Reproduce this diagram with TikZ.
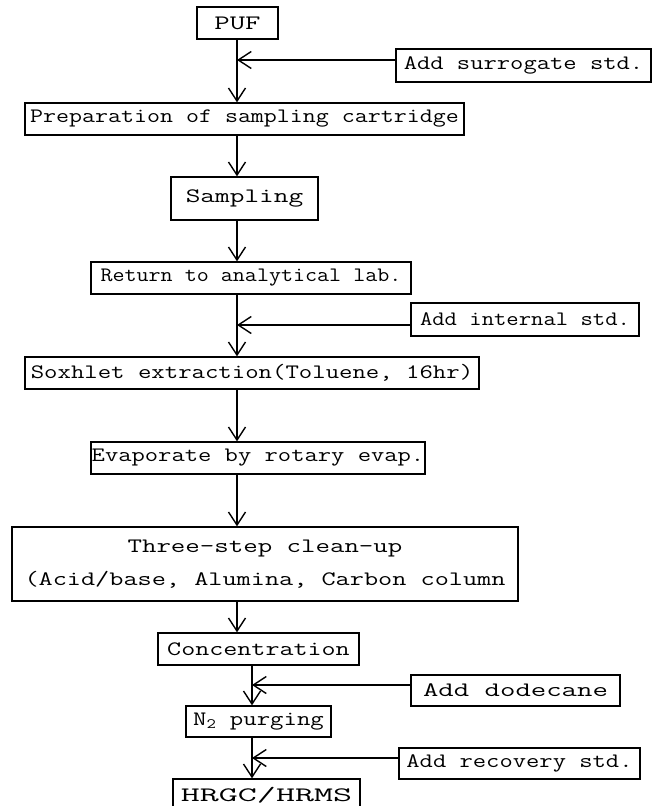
\documentclass[tikz,border=0pt]{standalone}
\usepackage{graphicx}
\usetikzlibrary{arrows.meta}
\newcommand{\sx}[2][1.26]{\scalebox{#1}[1]{#2}}
\tikzset{
  box/.style={draw, line width=1.4pt, inner sep=0pt, font=\fontsize{20.5}{24}\selectfont\ttfamily},
  arr/.style={line width=1.4pt, -{Straight Barb[length=13pt,width=17pt,line width=1.4pt]}},
}
\begin{document}
\begin{tikzpicture}[x=1pt,y=-1pt]
\useasboundingbox[fill=white] (0,0) rectangle (653,806);
% columns
\coordinate (c1) at (237,0);
\coordinate (c2) at (252,0);
% nodes
\node[box, minimum width=81pt,  minimum height=32pt] (puf)   at (237.5,23)  {\sx[1.46]{PUF}};
\node[box, minimum width=255pt, minimum height=33pt] (sur)   at (523.5,65.5) {\sx[1.26]{Add surrogate std.}};
\node[box, minimum width=439pt, minimum height=32pt] (prep)  at (244.5,119) {\sx[1.23]{Preparation of sampling cartridge}};
\node[box, minimum width=147pt, minimum height=43pt] (samp)  at (244.5,198.5) {\sx[1.39]{Sampling}};
\node[box, minimum width=320pt, minimum height=32pt] (ret)   at (251,278)   {\sx[1.14]{Return to analytical lab.}};
\node[box, minimum width=228pt, minimum height=33pt] (int)   at (525,319.5) {\sx[1.17]{Add internal std.}};
\node[box, minimum width=454pt, minimum height=32pt] (sox)   at (252,373)   {\sx[1.27]{Soxhlet extraction(Toluene, 16hr)}};
\node[box, minimum width=334pt, minimum height=32pt] (evap)  at (258,458)   {\sx[1.26]{Evaporate by rotary evap.}};
\node[box, minimum width=506pt, minimum height=74pt, align=center, font=\fontsize{20.5}{33}\selectfont\ttfamily] (three) at (265,564)
  {\sx[1.37]{Three-step clean-up}\\\sx[1.34]{(Acid/base, Alumina, Carbon column}};
\node[box, minimum width=201pt, minimum height=32pt] (conc)  at (258.5,649) {\sx[1.33]{Concentration}};
\node[box, minimum width=209pt, minimum height=31pt] (dod)   at (515.5,690.5) {\sx[1.46]{Add dodecane}};
\node[box, minimum width=145pt, minimum height=31pt] (n2)    at (258.5,721.5) {\sx[1.27]{N\textsubscript{2} purging}};
\node[box, minimum width=241pt, minimum height=31pt] (rec)   at (519.5,763.5) {\sx[1.26]{Add recovery std.}};
\node[box, minimum width=187pt, minimum height=32pt] (hrgc)  at (266.5,795) {\sx[1.8]{HRGC/HRMS}};
% junctions
\coordinate (j1) at (237,60);
\coordinate (j2) at (237,325);
\coordinate (j3) at (252,685);
\coordinate (j4) at (252,758);
% main flow
\draw[arr] (c1 |- puf.south)  -- (c1 |- prep.north);
\draw[arr] (c1 |- prep.south) -- (c1 |- samp.north);
\draw[arr] (c1 |- samp.south) -- (c1 |- ret.north);
\draw[arr] (c1 |- ret.south)  -- (c1 |- sox.north);
\draw[arr] (c1 |- sox.south)  -- (c1 |- evap.north);
\draw[arr] (c1 |- evap.south) -- (c1 |- three.north);
\draw[arr] (c1 |- three.south) -- (c1 |- conc.north);
\draw[arr] (c2 |- conc.south) -- (c2 |- n2.north);
\draw[arr] (c2 |- n2.south)   -- (c2 |- hrgc.north);
% side inputs
\draw[arr] (sur.west |- j1) -- (j1);
\draw[arr] (int.west |- j2) -- (j2);
\draw[arr] (dod.west |- j3) -- (j3);
\draw[arr] (rec.west |- j4) -- (j4);
\end{tikzpicture}
\end{document}
